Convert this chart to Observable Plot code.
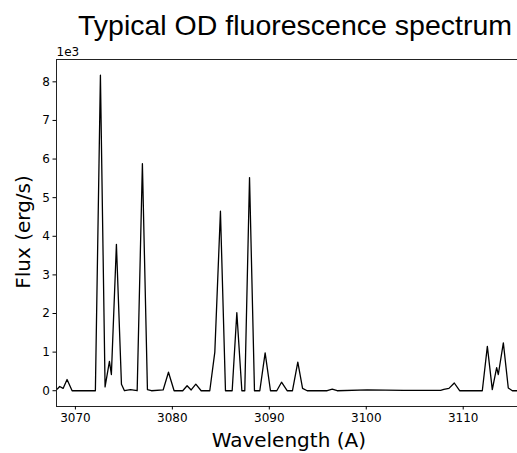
<!DOCTYPE html>
<html>
<head>
<meta charset="utf-8">
<script src="https://cdn.jsdelivr.net/npm/d3@7"></script>
<script src="https://cdn.jsdelivr.net/npm/@observablehq/plot@0.6"></script>
<style>
  html, body { margin: 0; padding: 0; background: #fff; }
  #chart { width: 517px; height: 453px; overflow: hidden; }
</style>
</head>
<body>
<div id="chart"></div>
<script>
// Wavelength (Å) samples
const wavelength = [
  3068.11, 3068.38, 3068.73, 3069.14, 3069.66, 3072.06, 3072.58, 3073.06, 3073.51, 3073.71,
  3074.23, 3074.75, 3075.06, 3075.68, 3076.37, 3076.91, 3077.43, 3077.84, 3079.05, 3079.60,
  3080.18, 3081.07, 3081.52, 3081.94, 3082.42, 3082.97, 3083.86, 3084.38, 3084.96, 3085.48,
  3086.17, 3086.65, 3087.17, 3087.47, 3087.96, 3088.47, 3089.02, 3089.57, 3090.12, 3090.77,
  3091.26, 3091.84, 3092.39, 3092.94, 3093.43, 3093.91, 3095.97, 3096.49, 3097.00, 3100.10,
  3103.88, 3107.67, 3108.00, 3108.53, 3109.08, 3109.63, 3111.97, 3112.49, 3113.00, 3113.45,
  3113.62, 3114.14, 3114.65, 3115.07, 3115.60
];
// Flux (erg/s)
const flux = [
  40, 110, 60, 290, 0, 0, 8170, 100, 760, 420,
  3790, 170, 0, 30, 0, 5880, 30, 0, 20, 480,
  0, 0, 130, 20, 170, 0, 0, 1000, 4650, 0,
  0, 2020, 0, 0, 5520, 0, 0, 980, 0, 0,
  220, 0, 0, 740, 60, 0, 0, 40, 0, 20,
  10, 10, 35, 60, 200, 0, 0, 1150, 30, 600,
  420, 1240, 70, 0, 0
];
const xTicks = [3070, 3080, 3090, 3100, 3110];
const yTicks = [0, 1000, 2000, 3000, 4000, 5000, 6000, 7000, 8000];
const titleText = "Typical OD fluorescence spectrum";
const xLabel = "Wavelength (A)";
const yLabel = "Flux (erg/s)";
const offsetText = "1e3";

const data = wavelength.map((w, i) => ({w, f: flux[i]}));

const chart = Plot.plot({
  width: 517,
  height: 453,
  marginLeft: 56,
  marginRight: 0,
  marginTop: 59,
  marginBottom: 47,
  style: {fontFamily: "'DejaVu Sans', sans-serif", background: "#fff", color: "#000"},
  x: {domain: [3068.05, 3115.6]},
  y: {domain: [-408.5, 8578.5]},
  marks: [
    Plot.line(data, {x: "w", y: "f", stroke: "#000", strokeWidth: 1.3}),
    Plot.frame({anchor: "top", stroke: "#222"}),
    Plot.frame({anchor: "left", stroke: "#222"}),
    Plot.frame({anchor: "bottom", stroke: "#222"}),
    Plot.axisX({ticks: xTicks, tickFormat: d => String(d), tickSize: 3.5, tickPadding: 3, fontSize: 12, label: null}),
    Plot.axisY({ticks: yTicks, tickFormat: d => String(d / 1000), tickSize: 3.5, tickPadding: 3, fontSize: 12, label: null}),
    Plot.text([offsetText], {frameAnchor: "top-left", textAnchor: "start", lineAnchor: "bottom", dy: -4, fontSize: 12, fill: "#000"}),
    Plot.text([xLabel], {frameAnchor: "bottom", textAnchor: "middle", lineAnchor: "bottom", dx: 1.8, dy: 40.5, fontSize: 20, fill: "#000"}),
    Plot.text([yLabel], {frameAnchor: "left", textAnchor: "middle", lineAnchor: "bottom", rotate: -90, dx: -26.5, dy: -1, fontSize: 20, fill: "#000"}),
    Plot.text([titleText], {frameAnchor: "top", textAnchor: "middle", lineAnchor: "bottom", dx: 8, dy: -25, fontSize: 28.5, fontFamily: "'Liberation Sans', Arial, sans-serif", fill: "#000"})
  ]
});
document.getElementById("chart").appendChild(chart);
</script>
</body>
</html>
